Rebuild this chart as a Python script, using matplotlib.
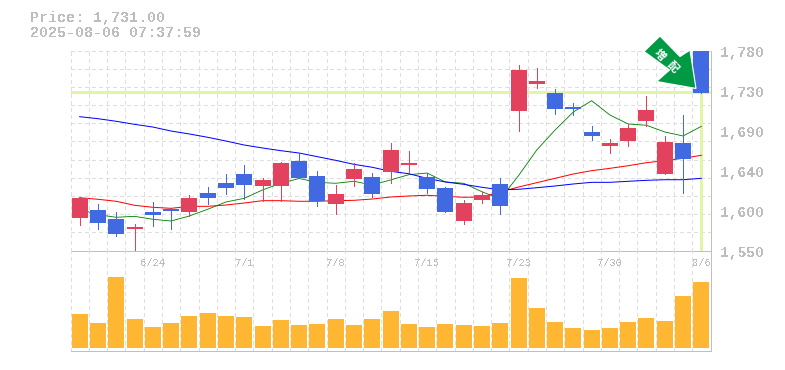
import numpy as np
import matplotlib
matplotlib.use("Agg")
import matplotlib.pyplot as plt
from matplotlib.patches import Polygon
from matplotlib.transforms import IdentityTransform

W, H = 785, 370
PX = 0.72  # one pixel in points at dpi 100

price_text = "Price: 1,731.00"
time_text = "2025-08-06 07:37:59"
last_price = 1731
badge_text = "増配"

opens = [1587, 1597, 1586, 1575, 1594, 1598, 1594, 1616, 1628, 1638, 1624, 1624, 1653, 1636, 1604, 1632, 1635, 1640,
         1648, 1635, 1622, 1584, 1608, 1627, 1710, 1742, 1731, 1715, 1686, 1670, 1676, 1699, 1638, 1674, 1780]
highs = [1612, 1604, 1594, 1581, 1606, 1599, 1614, 1623, 1638, 1648, 1633, 1652, 1662, 1641, 1625, 1651, 1639, 1674,
         1664, 1639, 1623, 1608, 1617, 1633, 1763, 1760, 1736, 1720, 1693, 1678, 1696, 1728, 1682, 1706, 1781]
lows = [1579, 1575, 1567, 1550, 1578, 1575, 1590, 1604, 1615, 1609, 1607, 1607, 1633, 1601, 1592, 1624, 1612, 1628,
        1640, 1616, 1594, 1581, 1605, 1592, 1687, 1737, 1707, 1706, 1677, 1662, 1670, 1693, 1638, 1616, 1731]
closes = [1610, 1582, 1569, 1577, 1591, 1595, 1610, 1610, 1622, 1625, 1631, 1651, 1633, 1607, 1615, 1644, 1615, 1666,
          1651, 1621, 1594, 1605, 1614, 1601, 1758, 1745, 1713, 1713, 1682, 1674, 1691, 1712, 1675, 1655, 1731]

ma_green = [1597.4, 1591.2, 1588.2, 1589.3, 1585.9, 1583.9, 1589.7, 1597.4, 1605.8, 1610, 1619.6, 1627.3, 1632.8,
            1628.4, 1627.3, 1629.6, 1625.3, 1631.1, 1637.2, 1639.1, 1628.8, 1627.3, 1617.6, 1609.2, 1636, 1665.6,
            1688.6, 1709.3, 1722.3, 1705.8, 1695.5, 1694, 1686.3, 1681.7, 1692.8]
ma_red = [1610.7, 1608.9, 1606.6, 1602, 1599.7, 1598.5, 1600.8, 1600.8, 1602.3, 1604.6, 1607.3, 1607.3, 1606.6,
          1606.6, 1607.3, 1607.7, 1609.2, 1611.5, 1612.7, 1613.5, 1612.3, 1611.2, 1611.5, 1617.3, 1623, 1628, 1633,
          1638, 1641.8, 1644.5, 1647.5, 1651, 1653.3, 1656, 1659.5]
ma_blue = [1703.9, 1701.6, 1698.6, 1695.1, 1692, 1687.4, 1684, 1680.2, 1675.9, 1671.3, 1667.9, 1664.8, 1662.1,
           1657.9, 1653.7, 1649.1, 1645.7, 1641.1, 1638.3, 1633, 1628.8, 1626.1, 1622.7, 1619.8, 1620.4, 1622.2,
           1624.2, 1626.5, 1628.4, 1628.4, 1629.6, 1630.7, 1631.4, 1631.4, 1633]

volumes = [34, 25, 71, 29, 21, 25, 32, 35, 32, 31, 22, 28, 23, 24, 29, 23, 29, 37, 24, 21, 24, 23, 22, 25, 70, 40,
           26, 20, 18, 20, 26, 30, 27, 52, 66]

date_idx = [4, 9, 14, 19, 24, 29, 34]
date_labels = ["6/24", "7/1", "7/8", "7/15", "7/23", "7/30", "8/6"]
price_ticks = [1780, 1734, 1688, 1642, 1596, 1550]
price_labels = ["1,780", "1,730", "1,690", "1,640", "1,600", "1,550"]

# arrow badge outline and its two characters, in pixels of the picture
badge_shape = [(644, 51.5), (660, 36), (680, 56.5), (690, 50), (696, 88.5), (656.5, 81.5), (669.5, 70)]
badge_spots = [(660, 54.5), (672.5, 67)]

GRID = "#dedede"
AXIS = "#c0c0c0"
TEXT = "#bdbdbd"
UP = "#e3425f"
DOWN = "#4169e1"
VOL = "#ffb733"
LAST = "#e2f5a5"

plt.rcParams["font.family"] = ["Liberation Mono", "DejaVu Sans Mono"]
plt.rcParams["text.antialiased"] = False
plt.rcParams["lines.scale_dashes"] = False

fig = plt.figure(figsize=(W / 100, H / 100), dpi=100)
ax = fig.add_axes([70.5 / W, 1 - 250.5 / H, 640 / W, 200 / H])
vax = fig.add_axes([70.5 / W, 1 - 350.5 / H, 640 / W, 100 / H])
vax.patch.set_visible(False)

x = np.arange(len(opens))
dash = (0, (3 * PX, 3 * PX))

for a in (ax, vax):
    a.set_xlim(-0.5, len(opens) - 0.5)
    a.set_xticks([])
    a.set_yticks([])
    a.vlines(x - 0.5, 0, 1, transform=a.get_xaxis_transform(), color=GRID, lw=PX, linestyle=dash, zorder=1,
             antialiased=False)
    a.spines["top"].set_visible(False)
    a.spines["left"].set_visible(False)
    for s in ("bottom", "right"):
        a.spines[s].set_color(AXIS)
        a.spines[s].set_linewidth(PX)

ax.set_ylim(1550, 1780)
vax.set_ylim(-2.5, 97.5)

ax.hlines(np.linspace(1550, 1780, 12)[1:], -0.5, len(opens) - 0.5, color=GRID, lw=PX, linestyle=dash, zorder=1,
          antialiased=False)

# last price guide lines
ax.hlines(last_price + 1, -0.5, len(opens) - 0.5, color=LAST, lw=3 * PX, zorder=2, antialiased=False)
ax.vlines(x[-1], 1550, last_price, color=LAST, lw=3 * PX, zorder=2, antialiased=False)

ax.plot(x, ma_green, color="green", lw=0.85 * PX, zorder=3, antialiased=True)
ax.plot(x, ma_red, color="red", lw=PX, zorder=3, antialiased=True)
ax.plot(x, ma_blue, color="blue", lw=PX, zorder=3, antialiased=True)

colors = [UP if c >= o else DOWN for o, c in zip(opens, closes)]
ax.vlines(x, lows, highs, color=colors, lw=PX, zorder=4, antialiased=False)
bottoms = np.minimum(opens, closes)
heights = np.abs(np.array(closes) - np.array(opens))
ax.bar(x, heights, width=0.875, bottom=bottoms, color=colors, zorder=5, antialiased=False)

vax.bar(x, volumes, width=0.875, color=VOL, zorder=3, antialiased=False)

for i, label in zip(date_idx, date_labels):
    vax.annotate(label, xy=(i, 1), xycoords=("data", "axes fraction"), xytext=(0, -13), textcoords="offset pixels",
                 ha="center", va="center", color=TEXT, fontsize=7.5, annotation_clip=False)

for val, label in zip(price_ticks, price_labels):
    ax.annotate(label, xy=(1, val), xycoords=("axes fraction", "data"), xytext=(9.5, -3), textcoords="offset pixels",
                ha="left", va="center", color=TEXT, fontsize=10.5, fontweight="bold", annotation_clip=False)

fig.text(29.5 / W, 1 - 18 / H, price_text, color=TEXT, fontsize=10.8, fontweight="bold", ha="left", va="center")
fig.text(29.5 / W, 1 - 33 / H, time_text, color=TEXT, fontsize=10.8, fontweight="bold", ha="left", va="center")

# arrow badge sits on top of everything
pts = [(px, H - py) for px, py in badge_shape]
fig.add_artist(Polygon(pts, closed=True, facecolor="#009944", edgecolor="white", lw=1.2 * PX,
                       transform=IdentityTransform(), zorder=10, antialiased=True))
for ch, (bx, by) in zip(badge_text, badge_spots):
    fig.text(bx / W, 1 - by / H, ch, color="white", fontsize=8, rotation=-45, rotation_mode="anchor",
             ha="center", va="center", fontweight="bold", family=["Noto Sans CJK JP", "DejaVu Sans"], zorder=11,
             antialiased=True)

fig.savefig("out.png", dpi=100)
